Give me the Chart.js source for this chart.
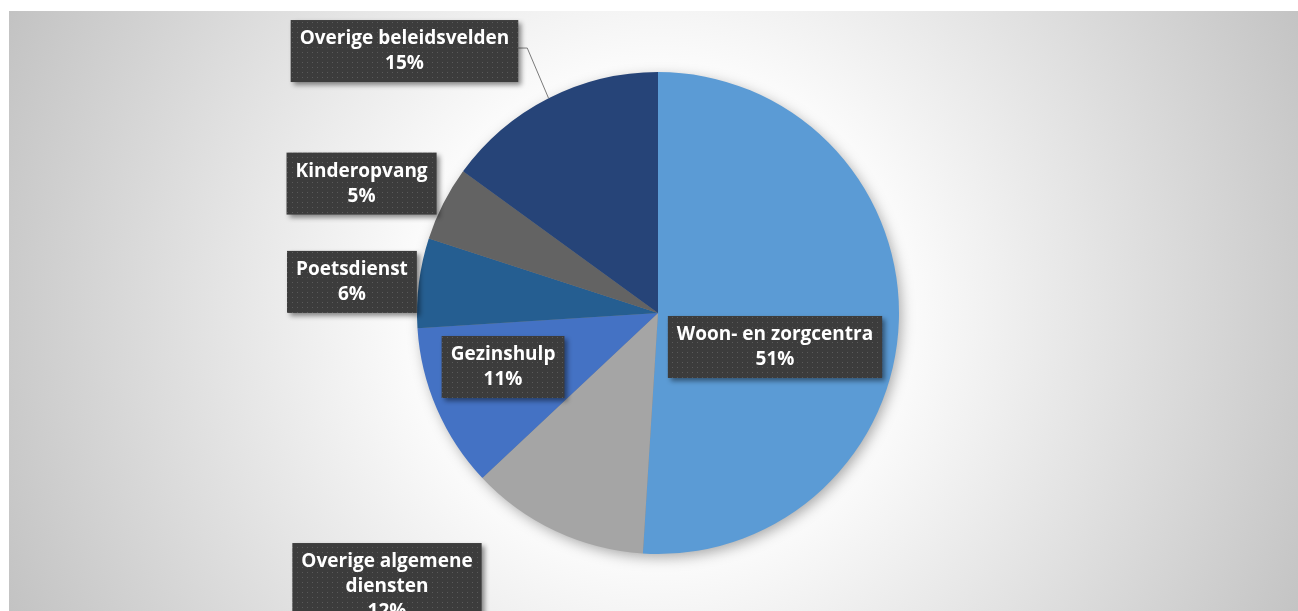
<!DOCTYPE html>
<html>
<head>
<meta charset="utf-8">
<script src="https://cdn.jsdelivr.net/npm/chart.js@4"></script>
<style>
  html, body { margin: 0; padding: 0; background: #fff; }
  #wrap { position: relative; width: 1298px; height: 611px; }
</style>
</head>
<body>
<div id="wrap"><canvas id="taart"></canvas></div>
<script>
// categorieën en aandelen (in %), met de wijzerzin vanaf 12 uur
const categorieen = ['Woon- en zorgcentra', ['Overige algemene', 'diensten'], 'Gezinshulp', 'Poetsdienst', 'Kinderopvang', 'Overige beleidsvelden'];
const aandelen = [51, 12, 11, 6, 5, 15];
const kleuren = ['#5B9BD5', '#A5A5A5', '#4472C4', '#255E91', '#636363', '#264478'];

// plaats van de labelvakjes t.o.v. het middelpunt, in eenheden van de straal
const labelDx = [0.4855, -1.1245, -0.643, -1.270, -1.230, -1.052];
const labelDy = [0.141, 1.135, 0.224, -0.129, -0.537, -1.087];
const metLijn = [false, false, false, false, false, true];

// stippelpatroon voor de labelvakjes
function maakPatroon(ctx) {
    const c = document.createElement('canvas');
    c.width = 5; c.height = 5;
    const p = c.getContext('2d');
    p.fillStyle = '#3c3c3c';
    p.fillRect(0, 0, 5, 5);
    p.fillStyle = '#5a5a5a';
    p.fillRect(2, 2, 1, 1);
    return ctx.createPattern(c, 'repeat');
}

const achtergrond = {
    id: 'achtergrond',
    beforeDraw(chart) {
        const ctx = chart.ctx;
        const arc = chart.getDatasetMeta(0).data[0];
        ctx.save();
        ctx.fillStyle = '#fff';
        ctx.fillRect(0, 0, chart.width, chart.height);
        const g = ctx.createRadialGradient(arc.x, arc.y, 0, arc.x, arc.y, 720);
        g.addColorStop(0, '#ffffff');
        g.addColorStop(0.3, '#ffffff');
        g.addColorStop(1, '#c2c2c2');
        ctx.fillStyle = g;
        ctx.fillRect(9, 11, chart.width - 9, chart.height - 11);
        ctx.restore();
    }
};

const schaduw = {
    id: 'schaduw',
    beforeDatasetsDraw(chart) {
        const ctx = chart.ctx;
        const arc = chart.getDatasetMeta(0).data[0];
        ctx.save();
        ctx.shadowColor = 'rgba(0,0,0,0.35)';
        ctx.shadowBlur = 14;
        ctx.shadowOffsetX = 3;
        ctx.shadowOffsetY = 4;
        ctx.fillStyle = '#888';
        ctx.beginPath();
        ctx.arc(arc.x, arc.y, arc.outerRadius - 1, 0, Math.PI * 2);
        ctx.fill();
        ctx.restore();
    }
};

const labels = {
    id: 'labels',
    afterDatasetsDraw(chart) {
        const ctx = chart.ctx;
        const meta = chart.getDatasetMeta(0);
        const totaal = aandelen.reduce((a, b) => a + b, 0);
        const patroon = maakPatroon(ctx);
        ctx.save();
        ctx.font = 'bold 19px "Open Sans"';
        meta.data.forEach((arc, i) => {
            const naam = Array.isArray(categorieen[i]) ? categorieen[i] : [categorieen[i]];
            const regels = naam.concat([Math.round(aandelen[i] / totaal * 100) + '%']);
            const r = arc.outerRadius;
            const cx = arc.x + labelDx[i] * r;
            const cy = arc.y + labelDy[i] * r;
            const breedte = Math.max(...regels.map(t => ctx.measureText(t).width)) + 18;
            const hoogte = regels.length * 25 + 12;
            const x0 = cx - breedte / 2, y0 = cy - hoogte / 2;

            if (metLijn[i]) {
                const mid = (arc.startAngle + arc.endAngle) / 2;
                const px = arc.x + Math.cos(mid) * r;
                const py = arc.y + Math.sin(mid) * r;
                ctx.strokeStyle = '#7a7a7a';
                ctx.lineWidth = 1;
                ctx.beginPath();
                ctx.moveTo(x0 + breedte, cy - 3);
                ctx.lineTo(x0 + breedte + 9, cy - 3);
                ctx.lineTo(px, py);
                ctx.stroke();
            }

            ctx.save();
            ctx.shadowColor = 'rgba(0,0,0,0.45)';
            ctx.shadowBlur = 5;
            ctx.shadowOffsetX = 3;
            ctx.shadowOffsetY = 3;
            ctx.fillStyle = patroon;
            ctx.fillRect(x0, y0, breedte, hoogte);
            ctx.restore();

            ctx.fillStyle = '#fff';
            ctx.textAlign = 'center';
            ctx.textBaseline = 'middle';
            regels.forEach((t, k) => {
                ctx.fillText(t, cx, y0 + 19 + k * 25);
            });
        });
        ctx.restore();
    }
};

new Chart(document.getElementById('taart'), {
    type: 'pie',
    data: {
        labels: categorieen,
        datasets: [{
            data: aandelen,
            backgroundColor: kleuren,
            borderWidth: 0
        }]
    },
    options: {
        responsive: true,
        maintainAspectRatio: false,
        animation: false,
        layout: { padding: { left: 18, right: 0, top: 72, bottom: 57 } },
        plugins: {
            legend: { display: false },
            tooltip: { enabled: false }
        }
    },
    plugins: [achtergrond, schaduw, labels]
});
</script>
</body>
</html>
